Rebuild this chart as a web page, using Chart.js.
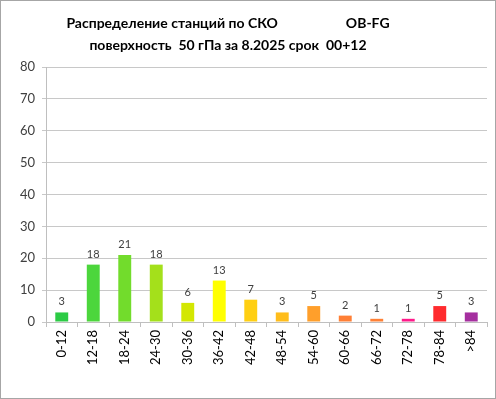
<!DOCTYPE html>
<html>
<head>
<meta charset="utf-8">
<script src="https://cdn.jsdelivr.net/npm/chart.js@4/dist/chart.umd.min.js"></script>
<style>
  html, body { margin: 0; padding: 0; background: #fff; }
  #wrap { width: 496px; height: 399px; }
</style>
</head>
<body>
<div id="wrap"><canvas id="chart" width="496" height="399"></canvas></div>
<script>
// data
const categories = ["0-12", "12-18", "18-24", "24-30", "30-36", "36-42", "42-48",
  "48-54", "54-60", "60-66", "66-72", "72-78", "78-84", ">84"]
const stationCounts = [3, 18, 21, 18, 6, 13, 7, 3, 5, 2, 1, 1, 5, 3]
const barColors = ["#2ccb45", "#4cd63c", "#72dc2c", "#a4e01b", "#d3e702", "#ffff00", "#ffcf12",
  "#ffbd1b", "#ff9f2b", "#ff7f35", "#ff8035", "#ff1a8a", "#ff2b2e", "#a52f9f"]
const titleLines = ["Распределение станций по СКО                    OB-FG",
  "поверхность  50 гПа за 8.2025 срок  00+12"]

const textColor = "#404040"
const baseFont = "Lato, 'Liberation Sans', sans-serif"

// values above the bars + title + outer frame
const extrasPlugin = {
  id: "extras",
  afterDatasetsDraw(chart) {
    const ctx = chart.ctx
    const meta = chart.getDatasetMeta(0)
    ctx.save()
    ctx.fillStyle = textColor
    ctx.font = "11px " + baseFont
    ctx.textAlign = "center"
    ctx.textBaseline = "bottom"
    meta.data.forEach((bar, i) => {
      ctx.fillText(String(stationCounts[i]), bar.x, bar.y - 5)
    })
    ctx.restore()
  },
  afterDraw(chart) {
    const ctx = chart.ctx
    ctx.save()
    ctx.fillStyle = "#000"
    ctx.font = "bold 14px " + baseFont
    ctx.textAlign = "center"
    ctx.textBaseline = "middle"
    ctx.fillText(titleLines[0], 228, 23)
    ctx.fillText(titleLines[1], 228, 45)
    ctx.strokeStyle = "#a6a6a6"
    ctx.lineWidth = 1
    ctx.strokeRect(0.5, 0.5, chart.width - 1, chart.height - 1)
    ctx.restore()
  }
}

new Chart(document.getElementById("chart"), {
  type: "bar",
  data: {
    labels: categories,
    datasets: [{
      data: stationCounts,
      backgroundColor: barColors,
      barPercentage: 0.41,
      categoryPercentage: 1
    }]
  },
  options: {
    responsive: false,
    animation: false,
    layout: { padding: { left: 0, right: 9, top: 67, bottom: 0 } },
    plugins: {
      legend: { display: false },
      tooltip: { enabled: false }
    },
    scales: {
      x: {
        offset: true,
        grid: { offset: true, drawOnChartArea: false, drawTicks: true, tickLength: 5, color: "#bfbfbf" },
        border: { color: "#bfbfbf" },
        ticks: { minRotation: 90, maxRotation: 90, padding: 3, color: "#000", font: { size: 13, family: baseFont } },
        afterFit(scale) { scale.height = 77 }
      },
      y: {
        min: 0,
        max: 80,
        ticks: { stepSize: 10, padding: 7, color: textColor, font: { size: 13, family: baseFont } },
        grid: { color: "#c8c8c8", tickLength: 4 },
        border: { color: "#bfbfbf" },
        afterFit(scale) { scale.width = 46 }
      }
    }
  },
  plugins: [extrasPlugin]
})
</script>
</body>
</html>
